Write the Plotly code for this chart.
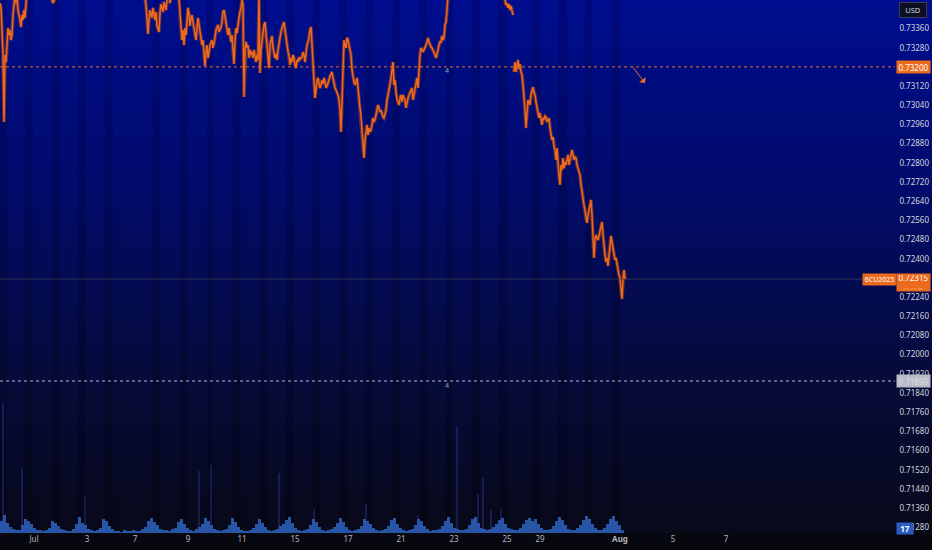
import numpy as np
import plotly.graph_objects as go

# ---------------- data (bar index, price) ----------------
bars = [0,1,2,3,4,5,6,7,8,9,10,11,12,13,14,15,16,17,18,19,20,21,22,23,24,25,26,27,30,35,44,50,53,55,58,70,90,110,125,138,144,146,
        147,148,149,150,152,153,155,156,157,159,160,161,163,164,166,167,169,170,172,176,179,
        180,181,182,183,184,185,186,187,188,189,190,191,192,193,195,196,197,198,199,200,202,203,204,205,206,207,208,209,210,212,213,215,216,218,219,221,222,223,224,225,226,227,228,229,230,231,232,233,234,235,
        236,237,238,239,240,241,242,243,244,245,246,247,248,249,250,251,252,253,254,255,256,257,258,259,260,261,262,263,264,265,266,267,268,269,270,271,272,273,274,275,276,277,278,279,280,281,282,283,284,285,286,287,288,289,290,291,292,293,294,295,296,297,298,299,300,301,302,303,304,305,306,307,308,309,310,311,312,313,314,315,316,317,318,319,320,321,322,323,324,325,326,327,328,329,330,331,332,333,334,335,336,337,338,339,340,341,342,343,344,345,346,347,348,349,350,
        351,352,353,354,355,356,357,358,359,360,361,362,363,364,365,366,367,368,369,370,371,372,373,374,375,376,377,378,379,380,381,382,383,384,385,386,387,388,389,390,391,392,393,394,395,396,397,398,399,400,401,402,403,404,405,406,407,408,409,410,411,412,413,414,415,416,417,418,419,420,421,422,423,424,425,426,427,428,429,430,431,432,433,434,435,436,437,438,439,440,441,442,443,444,445,446,447,448,
        452,465,480,495,503,505,506,507,508,509,510,511,512,513,513.5,
        514,515,516,517,518,519,520,521,522,523,524,525,526,527,528,529,530,531,532,533,534,535,536,537,538,539,540,541,542,543,544,545,546,547,548,549,550,551,552,553,554,555,556,557,558,559,560,561,562,563,564,565,566,567,568,569,570,571,572,573,574,575,576,577,578,579,580,581,582,583,584,585,586,587,588,589,590,591,592,593,594,595,596,597,598,599,600,601,602,603,604,605,606,607,608,609,610,611,612,613,614,615,616,617,618,619,620,621,622,623,624,625]

prices = [0.73466,0.73446,0.73354,0.73250,0.72970,0.73250,0.73220,0.73312,0.73362,0.73333,0.73354,0.73312,0.73333,0.73416,0.73458,0.73500,0.73466,0.73500,0.73437,0.73421,0.73396,0.73366,0.73416,0.73396,0.73437,0.73404,0.73458,0.73521,0.73583,0.73604,0.73562,0.73512,0.73466,0.73487,0.73542,0.73625,0.73667,0.73667,0.73625,0.73583,0.73512,0.73458,
          0.73404,0.73337,0.73396,0.73437,0.73404,0.73446,0.73396,0.73429,0.73371,0.73346,0.73429,0.73462,0.73429,0.73471,0.73437,0.73479,0.73521,0.73466,0.73542,0.73562,0.73487,
          0.73408,0.73375,0.73312,0.73354,0.73291,0.73362,0.73333,0.73396,0.73446,0.73421,0.73371,0.73404,0.73416,0.73387,0.73333,0.73312,0.73362,0.73404,0.73375,0.73346,0.73291,0.73312,0.73250,0.73204,0.73262,0.73291,0.73237,0.73271,0.73291,0.73312,0.73279,0.73321,0.73354,0.73375,0.73346,0.73366,0.73387,0.73429,0.73437,0.73412,0.73387,0.73354,0.73333,0.73362,0.73321,0.73304,0.73333,0.73271,0.73212,0.73312,
          0.73362,0.73341,0.73387,0.73404,0.73429,0.73446,0.73479,0.73458,0.73075,0.73271,0.73304,0.73279,0.73291,0.73237,0.73271,0.73250,0.73262,0.73237,0.73271,0.73250,0.73220,0.73250,0.73229,0.73500,0.73175,0.73271,0.73312,0.73333,0.73375,0.73387,0.73333,0.73279,0.73250,0.73195,0.73291,0.73312,0.73329,0.73279,0.73250,0.73237,0.73254,0.73229,0.73271,0.73304,0.73321,0.73346,0.73362,0.73379,0.73387,0.73354,0.73321,0.73291,0.73262,0.73250,0.73208,0.73237,0.73220,0.73250,0.73237,0.73208,0.73195,0.73229,0.73220,0.73241,0.73229,0.73237,0.73241,0.73262,0.73250,0.73220,0.73271,0.73291,0.73304,0.73321,0.73354,0.73366,0.73291,0.73200,0.73145,0.73070,0.73104,0.73145,0.73154,0.73129,0.73112,0.73125,0.73145,0.73129,0.73154,0.73137,0.73112,0.73120,0.73129,0.73145,0.73162,0.73175,0.73179,0.73154,0.73125,0.73112,0.73104,0.73095,0.73083,0.73062,0.73020,0.72929,0.73062,0.73250,0.73312,0.73291,0.73279,0.73321,0.73312,0.73291,0.73262,
          0.73250,0.73187,0.73154,0.73137,0.73125,0.73145,0.73154,0.73112,0.73062,0.73029,0.73000,0.72945,0.72895,0.72820,0.72895,0.72937,0.72958,0.72916,0.72945,0.72929,0.72937,0.72958,0.72987,0.72970,0.72979,0.73000,0.73020,0.73041,0.73029,0.73012,0.73020,0.73000,0.72991,0.72987,0.73000,0.73020,0.73062,0.73083,0.73095,0.73125,0.73154,0.73187,0.73220,0.73125,0.73145,0.73095,0.73062,0.73054,0.73041,0.73070,0.73083,0.73054,0.73083,0.73070,0.73062,0.73029,0.73054,0.73070,0.73083,0.73095,0.73104,0.73112,0.73062,0.73083,0.73104,0.73125,0.73154,0.73112,0.73208,0.73250,0.73279,0.73271,0.73262,0.73271,0.73279,0.73291,0.73304,0.73321,0.73304,0.73291,0.73283,0.73279,0.73271,0.73262,0.73250,0.73237,0.73250,0.73271,0.73291,0.73304,0.73304,0.73329,0.73312,0.73321,0.73375,0.73387,0.73437,0.73500,
          0.73562,0.73625,0.73646,0.73604,0.73521,0.73479,0.73458,0.73466,0.73446,0.73462,0.73437,0.73454,0.73429,0.73416,None,
          0.73179,0.73220,0.73179,0.73208,0.73229,0.73191,0.73212,0.73179,0.73166,0.73125,0.73083,0.73020,0.72945,0.73029,0.73062,0.73054,0.73041,0.73083,0.73104,0.73116,0.73095,0.73083,0.73054,0.73029,0.73000,0.72987,0.73008,0.72979,0.72958,0.72987,0.72979,0.72995,0.72991,0.72970,0.72979,0.72987,0.72945,0.72916,0.72895,0.72908,0.72862,0.72854,0.72812,0.72862,0.72791,0.72749,0.72708,0.72791,0.72770,0.72820,0.72778,0.72803,0.72791,0.72812,0.72833,0.72791,0.72812,0.72824,0.72854,0.72833,0.72812,0.72824,0.72820,0.72791,0.72778,0.72770,0.72749,0.72708,0.72687,0.72653,0.72624,0.72595,0.72562,0.72549,0.72582,0.72603,0.72624,0.72645,0.72582,0.72457,0.72403,0.72478,0.72499,0.72487,0.72478,0.72495,0.72520,0.72541,0.72553,0.72499,0.72445,0.72416,0.72387,0.72403,0.72370,0.72416,0.72457,0.72495,0.72470,0.72437,0.72416,0.72395,0.72403,0.72374,0.72353,0.72332,0.72320,0.72278,0.72232,0.72311,0.72353,0.72315]

# volume: 3-bar buckets starting at bar 0
vol_bucket = 3
volumes = [72,108,60,36,24,18,18,48,84,72,
           54,30,18,18,12,18,30,72,60,42,
           24,18,12,12,24,54,96,60,48,24,
           18,12,18,30,84,72,42,24,12,12,
           6,18,12,12,18,12,12,24,36,72,
           90,66,48,24,18,18,12,24,30,66,
           84,54,30,18,12,24,36,54,90,72,
           48,24,18,12,18,24,48,90,66,36,
           18,12,12,18,30,54,84,60,36,18,
           12,18,24,42,54,78,96,60,30,18,
           12,18,24,48,84,66,36,18,12,18,
           24,36,60,90,66,36,18,12,18,24,
           42,84,72,54,30,18,12,18,24,42,
           78,90,54,30,18,12,18,24,48,84,
           72,42,24,12,18,18,24,42,72,96,
           60,30,24,18,18,24,48,84,96,60,
           30,24,18,24,36,54,78,90,54,30,
           24,18,18,30,54,78,90,72,84,54,
           30,18,18,24,42,72,96,78,48,24,
           18,18,30,48,78,102,84,54,30,18,
           18,30,54,84,102,72,48,17]
spike_bars = [3,22,85,199,211,279,314,366,418,457,478,483,491,501]
spike_vols = [780,384,228,372,408,360,144,174,108,636,234,330,138,144]

# session shading (bar ranges of darker columns)
session_gaps = [(-1,7),(25,33),(52,60),(78,86),(105,113),(153,160),(180,187),(207,213),(233,241),
                (259,267),(286,294),(313,320),(339,347),(365,373),(393,400),(419,427),(446,453),
                (472,480),(498,507),(532,540),(558,567),(585,592),(612,620)]

x_tick_bars = [34,87,135,188,242,295,348,401,454,507,540,620,673,726]
x_tick_text = ["Jul","3","7","9","11","15","17","21","23","25","29","<b>Aug</b>","5","7"]
price_ticks = [0.71280,0.71360,0.71440,0.71520,0.71600,0.71680,0.71760,0.71840,0.71920,0.72000,
               0.72080,0.72160,0.72240,0.72400,0.72480,0.72560,0.72640,0.72720,0.72800,
               0.72880,0.72960,0.73040,0.73120,0.73280,0.73360]

last_price = 0.72315
alert_price = 0.73200
level_price = 0.71890
last_volume = 17

Y_MIN, Y_MAX = 0.71256, 0.73479
X_MAX = 932
VOL_MAX = 3198
ORANGE = "#ec6a1c"

fig = go.Figure()

# background gradient (light) + darker session columns
nrows = 107
edges_y = np.linspace(Y_MIN, Y_MAX, nrows + 1)
t = (edges_y[:-1] + edges_y[1:]) / 2
t = (t - Y_MIN) / (Y_MAX - Y_MIN)
light_cs = [[0.0, "rgb(8,9,24)"], [0.29, "rgb(6,11,58)"], [0.66, "rgb(1,11,108)"], [1.0, "rgb(0,13,142)"]]
dark_cs = [[0.0, "rgb(5,6,18)"], [0.29, "rgb(4,8,48)"], [0.66, "rgb(0,8,94)"], [1.0, "rgb(0,9,124)"]]
fig.add_trace(go.Heatmap(x=[-2, X_MAX + 2], y=edges_y, z=[[v] for v in t], colorscale=light_cs,
                         zmin=0, zmax=1, showscale=False, hoverinfo="skip"))
gx = []
for a, b in session_gaps:
    gx += [a, b]
zrow = lambda v: [v if j % 2 == 0 else None for j in range(len(gx) - 1)]
fig.add_trace(go.Heatmap(x=gx, y=edges_y, z=[zrow(v) for v in t], colorscale=dark_cs,
                         zmin=0, zmax=1, showscale=False, hoverinfo="skip"))

# price
fig.add_trace(go.Scatter(x=bars, y=prices, mode="lines", connectgaps=False,
                         line=dict(color="rgba(165,65,30,0.6)", width=3.6), hoverinfo="skip"))
fig.add_trace(go.Scatter(x=bars, y=prices, mode="lines", connectgaps=False,
                         line=dict(color=ORANGE, width=1.5), hoverinfo="skip"))

# volume
vol_x = [i * vol_bucket + vol_bucket / 2 for i in range(len(volumes))]
fig.add_trace(go.Bar(x=vol_x, y=volumes, width=vol_bucket, yaxis="y2",
                     marker=dict(color="#2856a6", line=dict(width=0)), hoverinfo="skip"))
fig.add_trace(go.Bar(x=spike_bars, y=spike_vols, width=1, yaxis="y2",
                     marker=dict(color="rgba(52,70,190,0.65)", line=dict(width=0)), hoverinfo="skip"))

# horizontal levels
fig.add_shape(type="line", xref="x", yref="y", x0=0, x1=895, y0=last_price, y1=last_price,
              line=dict(color="rgba(70,70,80,0.7)", width=1))
fig.add_shape(type="line", xref="x", yref="y", x0=0, x1=895, y0=alert_price, y1=alert_price,
              line=dict(color=ORANGE, width=1, dash="dot"))
fig.add_shape(type="line", xref="x", yref="y", x0=0, x1=895, y0=level_price, y1=level_price,
              line=dict(color="#b8bac8", width=1, dash="dot"))

FONT = "Noto Sans, DejaVu Sans, sans-serif"
ann = []
ann.append(dict(x=913, y=0.73439, xref="x", yref="y", text="USD", showarrow=False,
                font=dict(family=FONT, size=7.5, color="#d1d4dc"), bgcolor="#0c0f22",
                bordercolor="#3c4052", borderwidth=1, borderpad=2, width=22))
ann.append(dict(x=913, y=alert_price, xref="x", yref="y", text="0.73200", showarrow=False,
                font=dict(family=FONT, size=8, color="#ffffff"), bgcolor=ORANGE, width=31, height=10))
ann.append(dict(x=879.5, y=last_price, xref="x", yref="y", text="6CU2025", showarrow=False,
                font=dict(family=FONT, size=7, color="#ffffff"), bgcolor=ORANGE, width=31, height=9))
ann.append(dict(x=913, y=0.72301, xref="x", yref="y",
                text="0.72315<br><span style='font-size:5px;color:#f4b58c'>04:12:35</span>",
                showarrow=False, font=dict(family=FONT, size=8, color="#ffffff"), bgcolor=ORANGE,
                width=31, height=15))
ann.append(dict(x=913, y=level_price, xref="x", yref="y", text="0.71890", showarrow=False,
                font=dict(family=FONT, size=8, color="#d9dbe6"), bgcolor="#b9bbc7", width=31, height=10))
ann.append(dict(x=905, y=0.71275, xref="x", yref="y", text="<b>%d</b>" % last_volume, showarrow=False,
                font=dict(family=FONT, size=8, color="#ffffff"), bgcolor="#2a5cc4", width=14, height=9))
ann.append(dict(x=447, y=0.73183, xref="x", yref="y", text="4", showarrow=False,
                font=dict(family=FONT, size=7, color="#8fa6c8")))
ann.append(dict(x=447, y=0.71870, xref="x", yref="y", text="4", showarrow=False,
                font=dict(family=FONT, size=7, color="#8fa6c8")))
ann.append(dict(x=645, y=0.73133, ax=632, ay=0.73204, xref="x", yref="y", axref="x", ayref="y",
                text="", showarrow=True, arrowhead=1, arrowsize=1.4, arrowwidth=1, arrowcolor=ORANGE))

fig.update_layout(
    width=932, height=550, margin=dict(l=0, r=0, t=0, b=17),
    paper_bgcolor="#07070f", plot_bgcolor="#000a80",
    showlegend=False, barmode="overlay", annotations=ann,
    xaxis=dict(range=[0, X_MAX], showgrid=False, zeroline=False, showline=False, ticks="",
               tickvals=x_tick_bars, ticktext=x_tick_text,
               tickfont=dict(family=FONT, size=8, color="#b2b5be"), fixedrange=True),
    yaxis=dict(range=[Y_MIN, Y_MAX], side="right", ticklabelposition="inside", showgrid=False,
               zeroline=False, showline=False, ticks="", tickvals=price_ticks,
               ticktext=["%.5f" % v for v in price_ticks],
               tickfont=dict(family=FONT, size=8, color="#d1d4dc"), fixedrange=True),
    yaxis2=dict(range=[0, VOL_MAX], overlaying="y", visible=False, fixedrange=True),
)

fig.write_html("out.html", config={"displayModeBar": False},
               post_script="document.body.style.margin='0';document.body.style.background='#07070f';")
